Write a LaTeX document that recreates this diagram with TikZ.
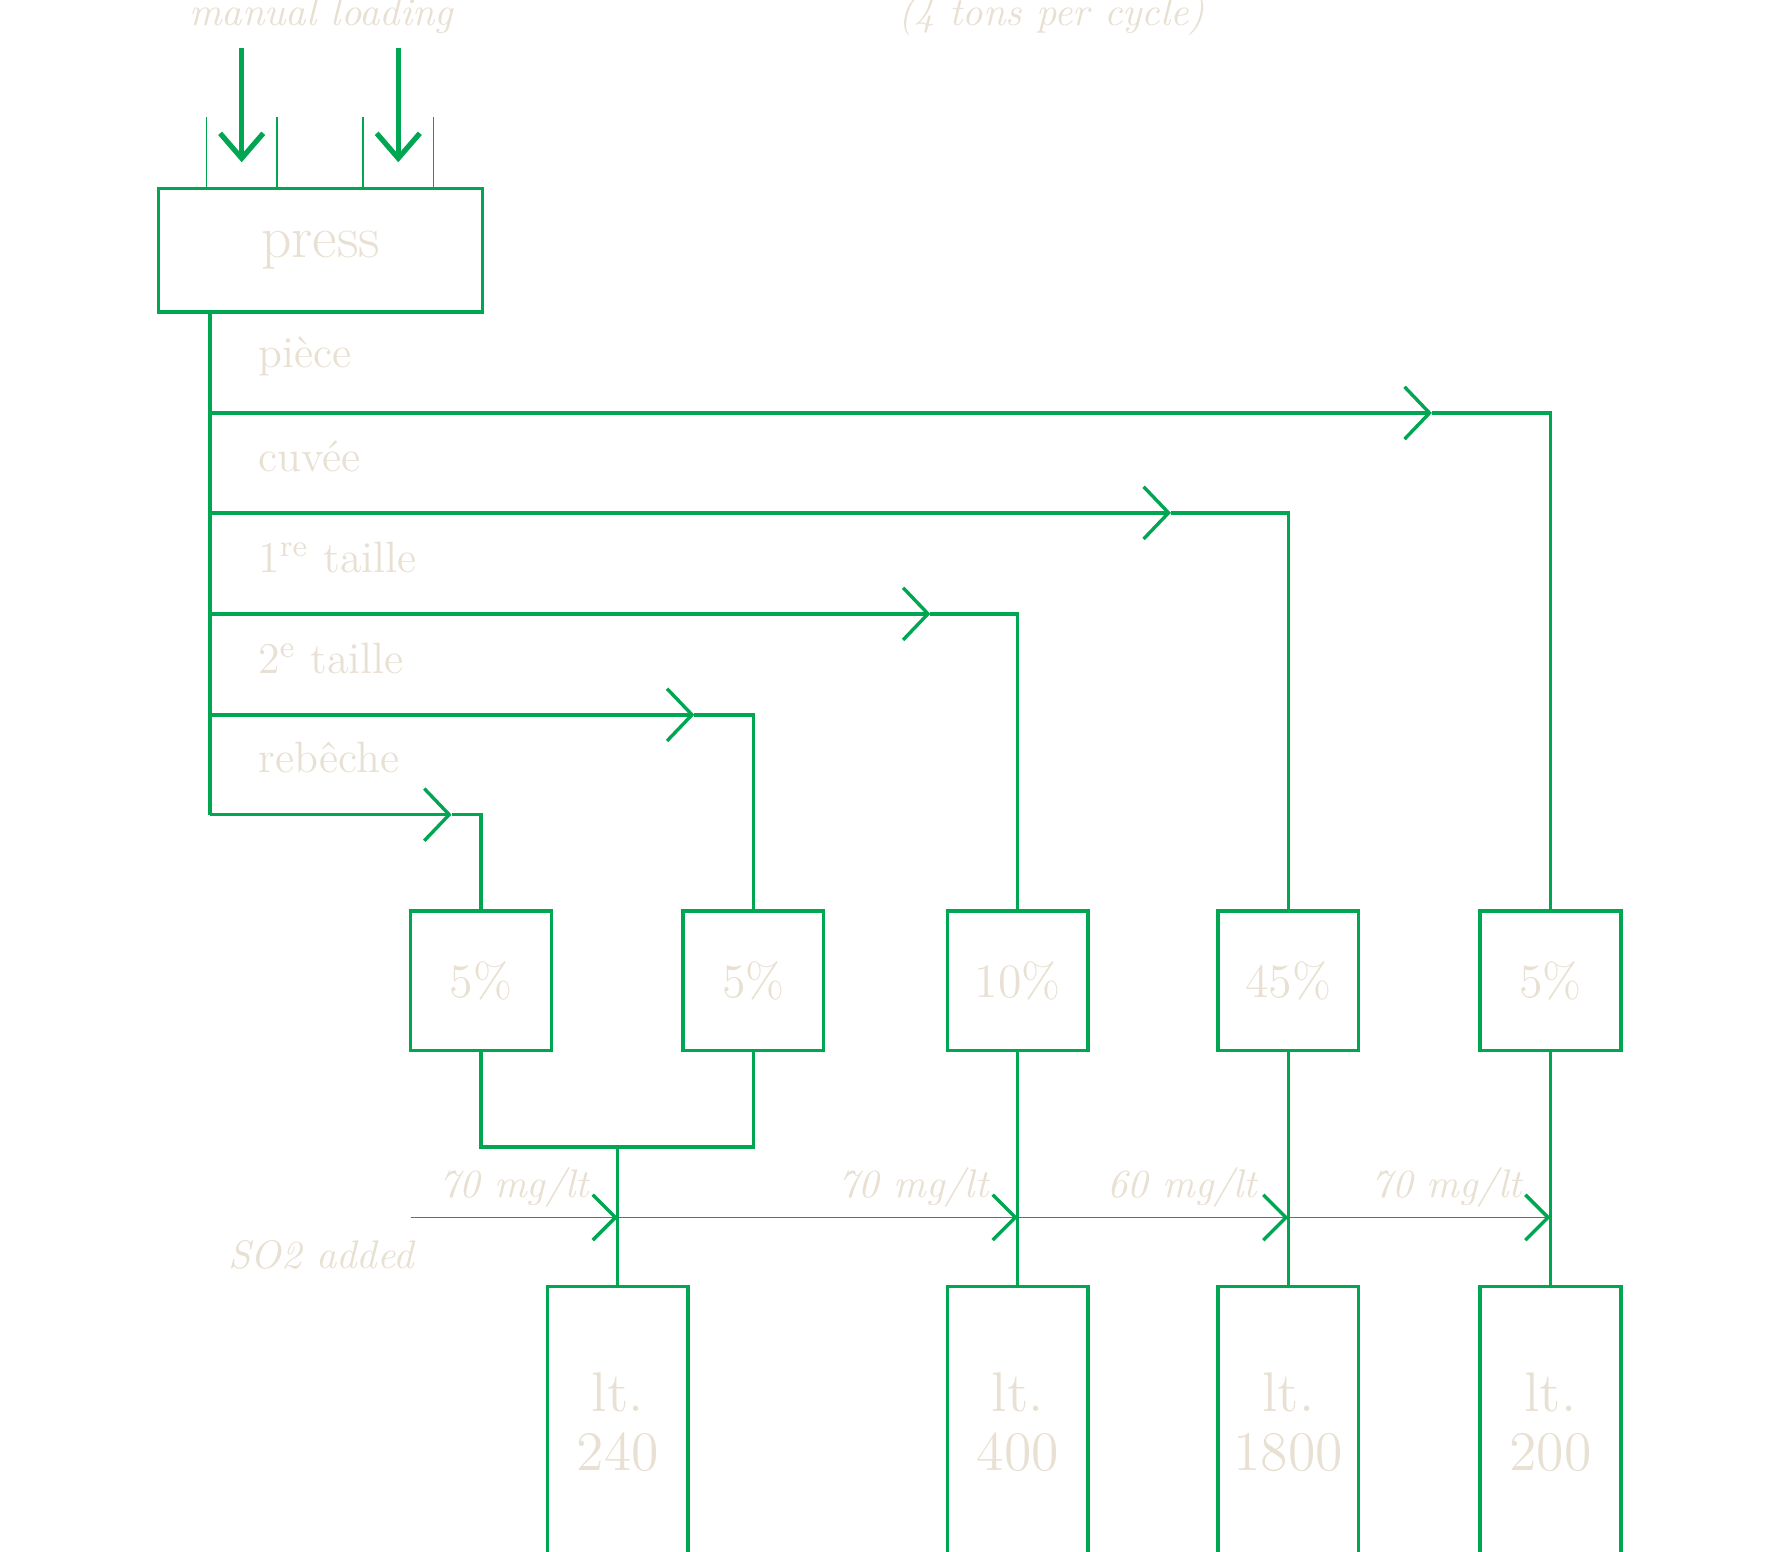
\documentclass[tikz,border=0pt]{standalone}
\usetikzlibrary{arrows.meta,positioning}
\definecolor{Pipe}{HTML}{00A651}
\definecolor{Ink}{HTML}{E8E0D2}
\newcommand{\PressUnit}{0.01}

\begin{document}
\begin{tikzpicture}[x=\PressUnit cm, y=-\PressUnit cm,
                    pipe/.style = { color=Pipe, line width=0.85pt },
                    thin/.style = { color=Pipe, line width=0.45pt },
                    flow/.style = { -{Straight Barb[length=2.2mm,width=4.6mm,line width=0.85pt]} },
                    dose/.style = { -{Straight Barb[length=2mm,width=4mm,line width=0.85pt]} },
                    vat/.style = { draw=Pipe, line width=0.85pt, minimum width=1.24cm, minimum height=1.23cm, inner sep=0pt, text=Ink, font=\fontsize{12}{14}\selectfont },
                    tank/.style = { vat, minimum height=2.39cm, align=center, font=\fontsize{14}{15}\selectfont },
                    stage/.style = { text=Ink, anchor=west, inner sep=0pt, font=\fontsize{11}{13}\selectfont },
                    note/.style = { text=Ink, inner sep=0pt, font=\fontsize{10}{12}\selectfont\itshape }]

  \useasboundingbox (0,0) rectangle (1560,1367);

  % press and loading
  \node [vat, minimum width=2.85cm, minimum height=1.09cm, font=\fontsize{15}{17}\selectfont] (press) at(282.5,220.5) {press};
  \node [note] (loading) at(283,14) {manual loading};
  \node [note] (tons) at(927,14) {(4 tons per cycle)};
  \coordinate (inA) at(213,42);
  \coordinate (inB) at(351,42);
  \draw [pipe, line width=1.3pt, -{Straight Barb[length=2.2mm,width=3.8mm,line width=1.3pt]}] (inA) -- (213,143);
  \draw [pipe, line width=1.3pt, -{Straight Barb[length=2.2mm,width=3.8mm,line width=1.3pt]}] (inB) -- (351,143);
  \draw [thin] (182,103) -- (182,166) (244,103) -- (244,166) (320,103) -- (320,166) (382,103) -- (382,166);

  % fractions
  \node [vat] (reb) at(424,864.5) {5\%};
  \node [vat] (tail2) at(664,864.5) {5\%};
  \node [vat] (tail1) at(897,864.5) {10\%};
  \node [vat] (cuvee) at(1135.5,864.5) {45\%};
  \node [vat] (piece) at(1366.5,864.5) {5\%};

  % tanks
  \node [tank] (t240) at(544.5,1253.5) {lt.\\240};
  \node [tank] (t400) at(897,1253.5) {lt.\\400};
  \node [tank] (t1800) at(1135.5,1253.5) {lt.\\1800};
  \node [tank] (t200) at(1366.5,1253.5) {lt.\\200};

  % trunk and branches
  \coordinate (trunk) at(185,275);
  \coordinate (bottom) at(185,718);
  \draw [pipe] (trunk) -- (bottom);
  \foreach \y/\tip/\vatname/\name in {364/1262/piece/{pièce}, 452/1032/cuvee/{cuvée}, 541/820/tail1/{1\textsuperscript{re} taille}, 630/612/tail2/{2\textsuperscript{e} taille}, 718/398/reb/{rebêche}} {
    \draw [pipe, flow] (185,\y) -- (\tip,\y);
    \draw [pipe] (\tip,\y) -| (\vatname.north);
    \node [stage] at(227,\y-50) {\name};
  }

  % to tanks
  \coordinate (join) at(544.5,1011);
  \draw [pipe] (reb.south) |- (join) -| (tail2.south);
  \draw [pipe] (join) -- (t240.north);
  \draw [pipe] (tail1.south) -- (t400.north);
  \draw [pipe] (cuvee.south) -- (t1800.north);
  \draw [pipe] (piece.south) -- (t200.north);

  % SO2
  \coordinate (so2) at(362,1073);
  \node [note] (so2label) at(283,1106) {SO2 added};
  \draw [thin, dose] (so2) -- (544.5,1073);
  \draw [thin, dose] (544.5,1073) -- (897,1073);
  \draw [thin, dose] (897,1073) -- (1135.5,1073);
  \draw [thin, dose] (1135.5,1073) -- (1366.5,1073);
  \node [note] at(453,1047) {70 mg/lt};
  \node [note] at(805,1047) {70 mg/lt};
  \node [note] at(1042,1047) {60 mg/lt};
  \node [note] at(1275,1047) {70 mg/lt};
\end{tikzpicture}
\end{document}
